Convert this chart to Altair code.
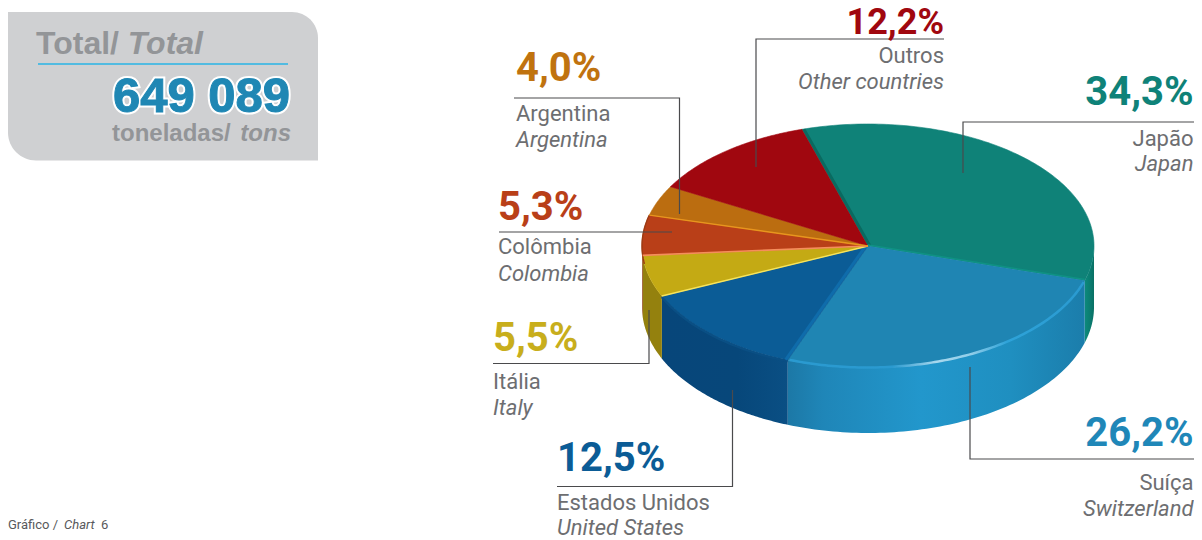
import altair as alt
import numpy as np
import pandas as pd

# ---- chart values -------------------------------------------------------
shares = [34.3, 26.2, 12.5, 5.5, 5.3, 4.0, 12.2]
share_labels = ["34,3%", "26,2%", "12,5%", "5,5%", "5,3%", "4,0%", "12,2%"]
names_pt = ["Japão", "Suíça", "Estados Unidos", "Itália", "Colômbia", "Argentina", "Outros"]
names_en = ["Japan", "Switzerland", "United States", "Italy", "Colombia", "Argentina", "Other countries"]
top_colors = ["#0f8278", "#1f85b3", "#0b5c96", "#c4aa14", "#b93f18", "#bb6d10", "#a0070f"]
label_colors = ["#0f8278", "#1f87b8", "#0b5c96", "#c8ae1c", "#b93f18", "#c0730f", "#a0070f"]
total_value = "649 089"

# ---- layout (page pixels, mapped through the scales) ----------------------
CX, CY, RX, RY = 868, 246, 226, 122
BCY, BRY = 307, 126
START = -17.0
GREY, LINE = "#6d6e71", "#4a4a4c"
FONT = "Roboto"
HEAVY = "Liberation Sans"

X = alt.X("x:Q", scale=alt.Scale(domain=[8, 1194], nice=False, zero=False), axis=None)
Y = alt.Y("y:Q", scale=alt.Scale(domain=[8, 540], nice=False, zero=False, reverse=True), axis=None)


def ell(t, cy=CY, ry=RY, rx=RX):
    r = np.radians(t)
    return CX + rx * np.sin(r), cy - ry * np.cos(r)


def path(xs, ys, **mark):
    df = pd.DataFrame({"x": xs, "y": ys, "i": range(len(xs))})
    return alt.Chart(df).mark_line(**mark).encode(x=X, y=Y, order="i:Q")


def grad(*stops):
    return alt.Gradient(gradient="linear", x1=0, x2=1, y1=0, y2=0,
                        stops=[alt.GradientStop(offset=o, color=c) for o, c in stops])


def text(x, y, s, size, color, weight="normal", style="normal", align="left", font=FONT, **kw):
    df = pd.DataFrame({"x": [x], "y": [y], "t": [s]})
    return alt.Chart(df).mark_text(font=font, fontSize=size, color=color, fontWeight=weight,
                                   fontStyle=style, align=align, baseline="alphabetic", **kw
                                   ).encode(x=X, y=Y, text="t:N")


edges = START + np.cumsum([0] + shares) * 3.6
layers = []

# side walls
wall_fill = [
    grad((0, "#0d8a7c"), (0.6, "#0a7c70"), (1, "#097064")),
    grad((0, "#1c78a6"), (0.12, "#1f86b8"), (0.45, "#2297cc"), (0.75, "#1f8fc0"), (1, "#1b7dab")),
    grad((0, "#07467a"), (0.6, "#07477a"), (1, "#0a4f84")),
    grad((0, "#94810e"), (1, "#94810e")),
    grad((0, "#8a3a12"), (1, "#8a3a12")),
]
for k in range(5):
    a, b = max(edges[k], 90), min(edges[k + 1], 270)
    t = np.linspace(a, b, 80)
    xt, yt = ell(t)
    xb, yb = ell(t[::-1], BCY, BRY)
    layers.append(path(np.r_[xt, xb], np.r_[yt, yb], fill=wall_fill[k], stroke=None, strokeWidth=0))

# top face wedges
for k in range(7):
    t = np.linspace(edges[k], edges[k + 1], 120)
    xs, ys = ell(t)
    layers.append(path(np.r_[CX, xs, CX], np.r_[CY, ys, CY], fill=top_colors[k],
                       stroke=top_colors[k], strokeWidth=0.6))

# rim highlights
t = np.linspace(edges[1] + 1, edges[2] - 0.5, 100)
layers.append(path(*ell(t, CY - 0.5), strokeWidth=2.5, stroke=grad(
    (0, "#2a9ad0"), (0.35, "#2a9ad0"), (0.5, "#a8d8ee"), (0.62, "#8fcde9"), (0.74, "#2ea3d9"), (1, "#2a9ad0"))))
t = np.linspace(edges[2], edges[3], 40)
layers.append(path(*ell(t, CY + 1), stroke="#0a4f84", strokeWidth=2.5))
t = np.linspace(edges[4] - 4, edges[5], 20)
layers.append(path(*ell(t), stroke="#9c3a12", strokeWidth=1.4))


# wedge borders
def radial(k, color, width, dx=0.0, dy=0.0):
    x, y = ell(edges[k])
    return path([CX + dx, x + dx], [CY + dy, y + dy], stroke=color, strokeWidth=width)


layers += [
    radial(0, "#0a6a60", 3, 2.0, 0.0),
    radial(1, "#0f9284", 1.5, 0, -1),
    radial(2, "#0f6cab", 3, -2.0, -0.5),
    radial(3, "#f6e35c", 1.4),
    radial(4, "#f58e5c", 1.6),
    radial(5, "#e8951e", 1.4),
]

# leader lines: one per slice
leaders = [
    ([1194, 963, 963], [122, 122, 173]),
    ([970, 970, 1194], [367, 459, 459]),
    ([732.5, 732.5, 557], [390, 486.5, 486.5]),
    ([649, 649, 493], [310, 363.5, 363.5]),
    ([499, 672], [232, 232]),
    ([514, 679.5, 679.5], [98, 98, 214]),
    ([944, 756, 756], [39, 39, 167]),
]
for xs, ys in leaders:
    layers.append(path(xs, ys, stroke=LINE, strokeWidth=1.2))

# slice labels: x, align, size and baseline of share, baselines of pt / en
label_pos = [
    (1193.5, "right", 40, 105, 146, 171),
    (1193.5, "right", 40, 446, 490, 516),
    (557, "left", 40, 471, 510, 535),
    (493, "left", 40, 351, 389, 415),
    (498, "left", 40, 220, 254, 281),
    (516, "left", 40, 81, 121, 147),
    (944, "right", 36, 34, 63, 89),
]
for k, (x, al, sz, y0, y1, y2) in enumerate(label_pos):
    layers.append(text(x, y0, share_labels[k], sz, label_colors[k], "bold", align=al))
    layers.append(text(x, y1, names_pt[k], 22, GREY, align=al))
    layers.append(text(x, y2, names_en[k], 22, GREY, style="italic", align=al))

# total panel
panel = pd.DataFrame({"x": [8], "x2": [318], "y": [12], "y2": [160.5]})
layers.append(alt.Chart(panel).mark_rect(color="#cfd0d2", cornerRadiusTopRight=26, cornerRadiusBottomLeft=28)
              .encode(x=X, x2="x2:Q", y=Y, y2="y2:Q"))
layers.append(text(36, 54, "Total/", 32, "#939598", "bold", font=HEAVY))
layers.append(text(203, 54, "Total", 32, "#939598", "bold", "italic", align="right", font=HEAVY))
layers.append(path([38, 288], [64, 64], stroke="#29b5e6", strokeWidth=1.5))
layers.append(text(290, 112, total_value, 49, "#ffffff", "bold", align="right", font=HEAVY,
                   stroke="#ffffff", strokeWidth=5))
layers.append(text(290, 112, total_value, 49, "#1f87b4", "bold", align="right", font=HEAVY,
                   stroke="#1f87b4", strokeWidth=1))
layers.append(text(112, 141, "toneladas/", 24, "#939598", "bold", font=HEAVY))
layers.append(text(291, 141, "tons", 24, "#939598", "bold", "italic", align="right", font=HEAVY))

# caption
layers.append(text(8, 529, "Gráfico / ", 13, "#58595b"))
layers.append(text(64, 529, "Chart", 13, "#58595b", style="italic"))
layers.append(text(101, 529, "6", 13, "#58595b"))

chart = alt.layer(*layers).properties(
    width=1186, height=532, padding=0,
    autosize=alt.AutoSizeParams(type="none"),
    background="#ffffff",
).configure_view(stroke=None)

chart.save("out.html", embed_options={"renderer": "svg", "actions": False})
